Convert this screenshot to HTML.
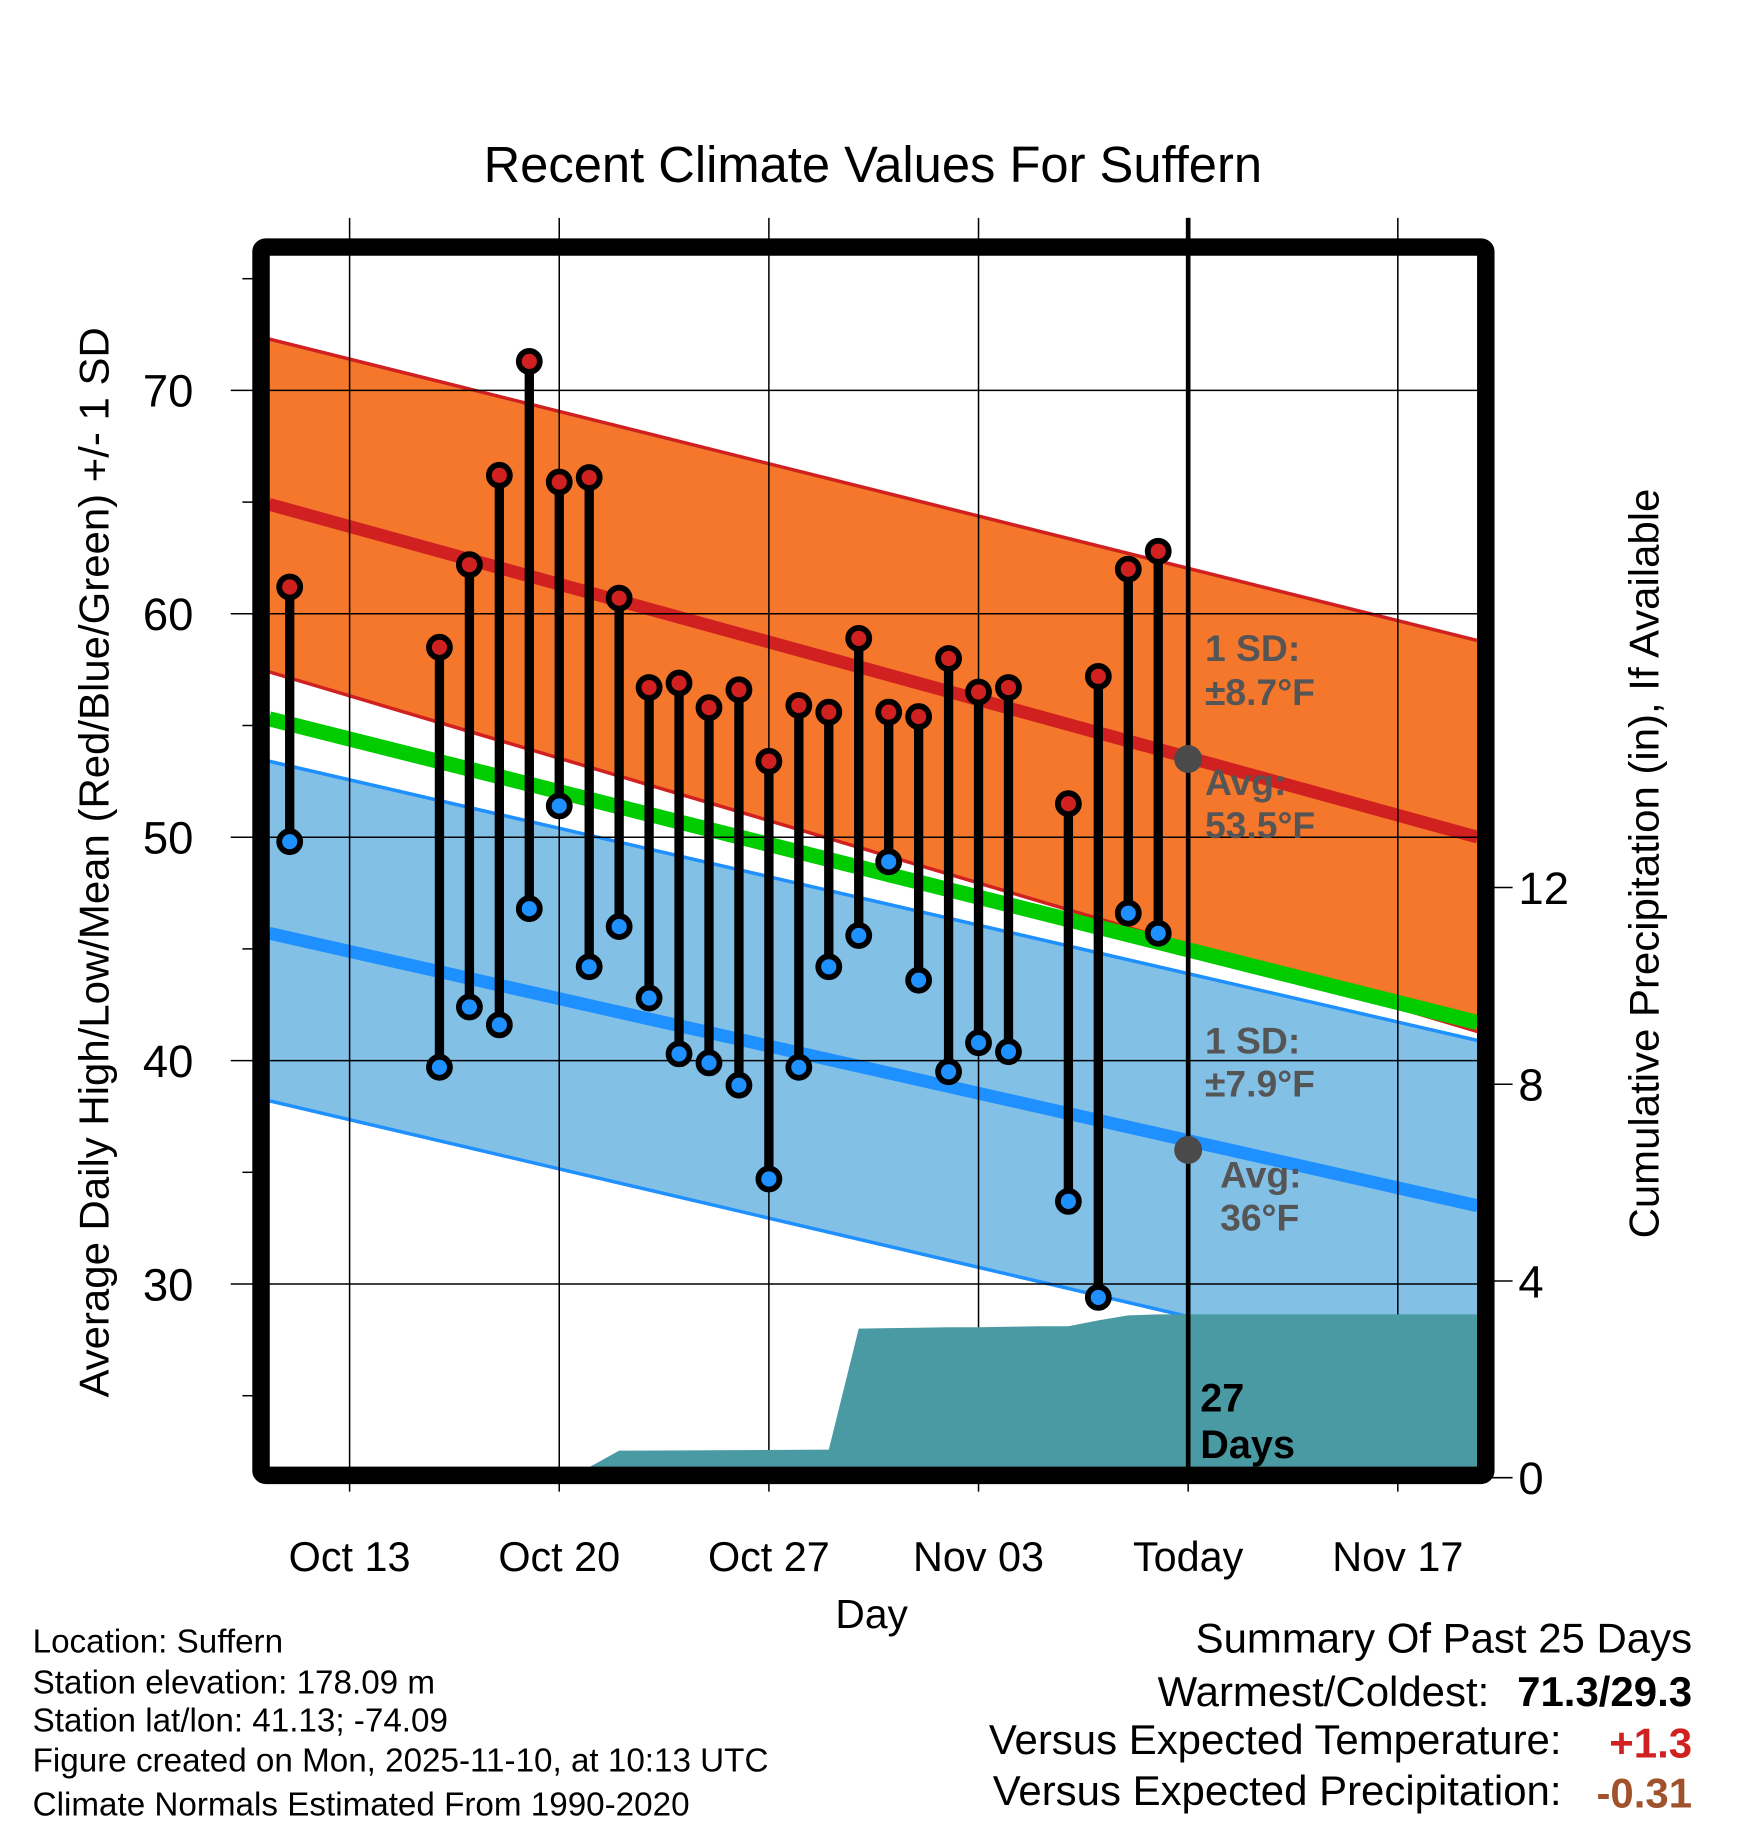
<!DOCTYPE html>
<html><head><meta charset="utf-8">
<style>
html,body{margin:0;padding:0;background:#fff;}
svg{display:block;font-family:"Liberation Sans",sans-serif;}
</style></head>
<body>
<svg id="chart" width="1748" height="1828" viewBox="0 0 1500 1568.6" preserveAspectRatio="none" xmlns="http://www.w3.org/2000/svg">
<g id="bands"></g>
<g id="grid"></g>
<g id="precip"></g>
<g id="marks"></g>
<g id="frame"></g>
<g id="labels"></g>
</svg>
<script>
// ---- data ----
const dayLabels = ["Oct 13","Oct 20","Oct 27","Nov 03","Today","Nov 17"];
const dayOffsets = [0,7,14,21,28,35]; // days since Oct 13
const yTicks = [30,40,50,60,70];
const yMinorTicks = [25,35,45,55,65,75];
const precipTicks = [0,4,8,12];
// observation days (days since Oct 13)
const obsDays = [-2,3,4,5,6,7,8,9,10,11,12,13,14,15,16,17,18,19,20,21,22,24,25,26,27];
const highs = [61.2,58.5,62.2,66.2,71.3,65.9,66.1,60.7,56.7,56.9,55.8,56.6,53.4,55.9,55.6,58.9,55.6,55.4,58.0,56.5,56.7,51.5,57.2,62.0,62.8];
const lows  = [49.8,39.7,42.4,41.6,46.8,51.4,44.2,46.0,42.8,40.3,39.9,38.9,34.7,39.7,44.2,45.6,48.9,43.6,39.5,40.8,40.4,33.7,29.4,46.6,45.7];
// precipitation: cumulative (in) at days since Oct 13
const precipDays = [-2,7,8,9,16,17,18,19,20,21,22,23,24,25,26,27,40];
const precipCum  = [0,0,0.2,0.55,0.57,3.03,3.04,3.05,3.06,3.06,3.07,3.08,3.08,3.2,3.3,3.32,3.32];
// normals at left edge / right edge of plot
const normalHighAvg = [64.9,50.0];
const normalHighUpper = [72.3,58.8];
const normalHighLower = [57.4,41.3];
const normalMean = [55.3,41.7];
const normalLowAvg = [45.7,33.5];
const normalLowUpper = [53.4,40.9];
const normalLowLower = [38.2,25.5];

// ---- scales ----
const X0=231,X1=1268,Y0=219,Y1=1259;
const xDay = d => 300 + d*25.7;
const yT = t => 335 + (70-t)*19.17;
const yP = p => 1268 - p*42.2;
const NS="http://www.w3.org/2000/svg";
function mk(tag,attrs,parent){const e=document.createElementNS(NS,tag);for(const k in attrs)e.setAttribute(k,attrs[k]);parent.appendChild(e);return e;}
const bands=document.getElementById('bands'),grid=document.getElementById('grid'),precip=document.getElementById('precip'),marks=document.getElementById('marks'),frame=document.getElementById('frame'),labels=document.getElementById('labels');

function band(up,lo,fill,stroke,name){
  const p=mk('polygon',{points:`${X0},${yT(up[0])} ${X1},${yT(up[1])} ${X1},${yT(lo[1])} ${X0},${yT(lo[0])}`,fill:fill},bands);
  
  
  mk('line',{x1:X0,y1:yT(up[0]),x2:X1,y2:yT(up[1]),stroke:stroke,'stroke-width':3},bands);
  mk('line',{x1:X0,y1:yT(lo[0]),x2:X1,y2:yT(lo[1]),stroke:stroke,'stroke-width':3},bands);
}
band(normalHighUpper,normalHighLower,'#f4772c','#d02020','high-sd-band');
band(normalLowUpper,normalLowLower,'#82c0e6','#1e90ff','low-sd-band');
function nline(v,c,w,name){const l=mk('line',{x1:X0,y1:yT(v[0]),x2:X1,y2:yT(v[1]),stroke:c,'stroke-width':w},bands);
  
  }
nline(normalMean,'#00cc00',13,'normal-mean-line');
nline(normalHighAvg,'#d02020',11,'normal-high-line');
nline(normalLowAvg,'#1e90ff',11,'normal-low-line');

// precip area
let pts=`${X0},${Y1} `;
precipDays.forEach((d,i)=>{pts+=`${Math.min(X1,Math.max(X0,xDay(d)))},${Math.min(Y1,yP(precipCum[i]))} `;});
pts+=`${X1},${Y1}`;
const pa=mk('polygon',{points:pts,fill:'#4a9aa3'},precip);



// grid
dayOffsets.forEach((d,i)=>{
  const x=xDay(d);
  mk('line',{x1:x,y1:187,x2:x,y2:1280,stroke:'#000','stroke-width':1.3},grid);
  const t=mk('text',{x:x,y:1348,'text-anchor':'middle','font-size':35.5},labels);
  t.textContent=dayLabels[i];
  
  
});
yTicks.forEach(v=>{
  const y=yT(v);
  mk('line',{x1:198,y1:y,x2:X1,y2:y,stroke:'#000','stroke-width':1.3},grid);
  const t=mk('text',{x:166,y:y+14,'text-anchor':'end','font-size':39},labels);
  t.textContent=v;
  
  
});
yMinorTicks.forEach(v=>{const y=yT(v);mk('line',{x1:208,y1:y,x2:220,y2:y,stroke:'#000','stroke-width':1.3},grid);});
precipTicks.forEach(v=>{
  const y=yP(v);
  mk('line',{x1:1280,y1:y,x2:1298,y2:y,stroke:'#000','stroke-width':1.3},grid);
  const t=mk('text',{x:1303,y:y+14,'font-size':39},labels);
  t.textContent=v;
  
  
});

// today line
const tl=mk('line',{x1:xDay(28),y1:187,x2:xDay(28),y2:Y1,stroke:'#000','stroke-width':4},marks);



// stems and dots
obsDays.forEach((d,i)=>{
  const x=xDay(d);
  const s=mk('line',{x1:x,y1:yT(highs[i]),x2:x,y2:yT(lows[i]),stroke:'#000','stroke-width':8},marks);
  
  
});
obsDays.forEach((d,i)=>{
  const x=xDay(d);
  const h=mk('circle',{cx:x,cy:yT(highs[i]),r:9,fill:'#d02020',stroke:'#000','stroke-width':5},marks);
  
  
  const l=mk('circle',{cx:x,cy:yT(lows[i]),r:9,fill:'#1e90ff',stroke:'#000','stroke-width':5},marks);
  
  
});
// today normal markers
[53.5,36].forEach(v=>{
  const c=mk('circle',{cx:xDay(28),cy:yT(v),r:12,fill:'#4a4a4a'},marks);
  
  
});

// frame
const fr=mk('rect',{x:224,y:212,width:1051,height:1054,fill:'none',stroke:'#000','stroke-width':15,rx:4},frame);


</script>
<svg style="position:absolute;left:0;top:0" width="1748" height="1828" viewBox="0 0 1500 1568.6" preserveAspectRatio="none" xmlns="http://www.w3.org/2000/svg" font-family="Liberation Sans, sans-serif">
<text x="749" y="156" text-anchor="middle" font-size="43.5">Recent Climate Values For Suffern</text>
<text transform="translate(93,740) rotate(-90)" text-anchor="middle" font-size="36">Average Daily High/Low/Mean (Red/Blue/Green) +/- 1 SD</text>
<text transform="translate(1423,741) rotate(-90)" text-anchor="middle" font-size="36">Cumulative Precipitation (in), If Available</text>
<text x="748" y="1397" text-anchor="middle" font-size="35">Day</text>
<g fill="#555" font-weight="bold" font-size="32">
<text x="1034" y="567">1 SD:</text><text x="1034" y="605">±8.7°F</text>
<text x="1034" y="682">Avg:</text><text x="1034" y="719">53.5°F</text>
</g>
<g fill="#555" font-weight="bold" font-size="32">
<text x="1034" y="904">1 SD:</text><text x="1034" y="941">±7.9°F</text>
<text x="1047" y="1019">Avg:</text><text x="1047" y="1056">36°F</text>
</g>
<g font-weight="bold" font-size="34">
<text x="1030" y="1211">27</text><text x="1030" y="1251">Days</text>
</g>
<g font-size="28.5">
<text x="28" y="1418">Location: Suffern</text>
<text x="28" y="1453">Station elevation: 178.09 m</text>
<text x="28" y="1486">Station lat/lon: 41.13; -74.09</text>
<text x="28" y="1520">Figure created on Mon, 2025-11-10, at 10:13 UTC</text>
<text x="28" y="1558">Climate Normals Estimated From 1990-2020</text>
</g>
<g font-size="36">
<text x="1452" y="1418" text-anchor="end">Summary Of Past 25 Days</text>
<text x="1278" y="1464" text-anchor="end">Warmest/Coldest:</text>
<text x="1452" y="1464" text-anchor="end" font-weight="bold">71.3/29.3</text>
<text x="1340" y="1505" text-anchor="end">Versus Expected Temperature:</text>
<text x="1452" y="1508" text-anchor="end" font-weight="bold" fill="#d02020">+1.3</text>
<text x="1340" y="1549" text-anchor="end">Versus Expected Precipitation:</text>
<text x="1452" y="1551" text-anchor="end" font-weight="bold" fill="#a0522d">-0.31</text>
</g>
</svg>
</body></html>
